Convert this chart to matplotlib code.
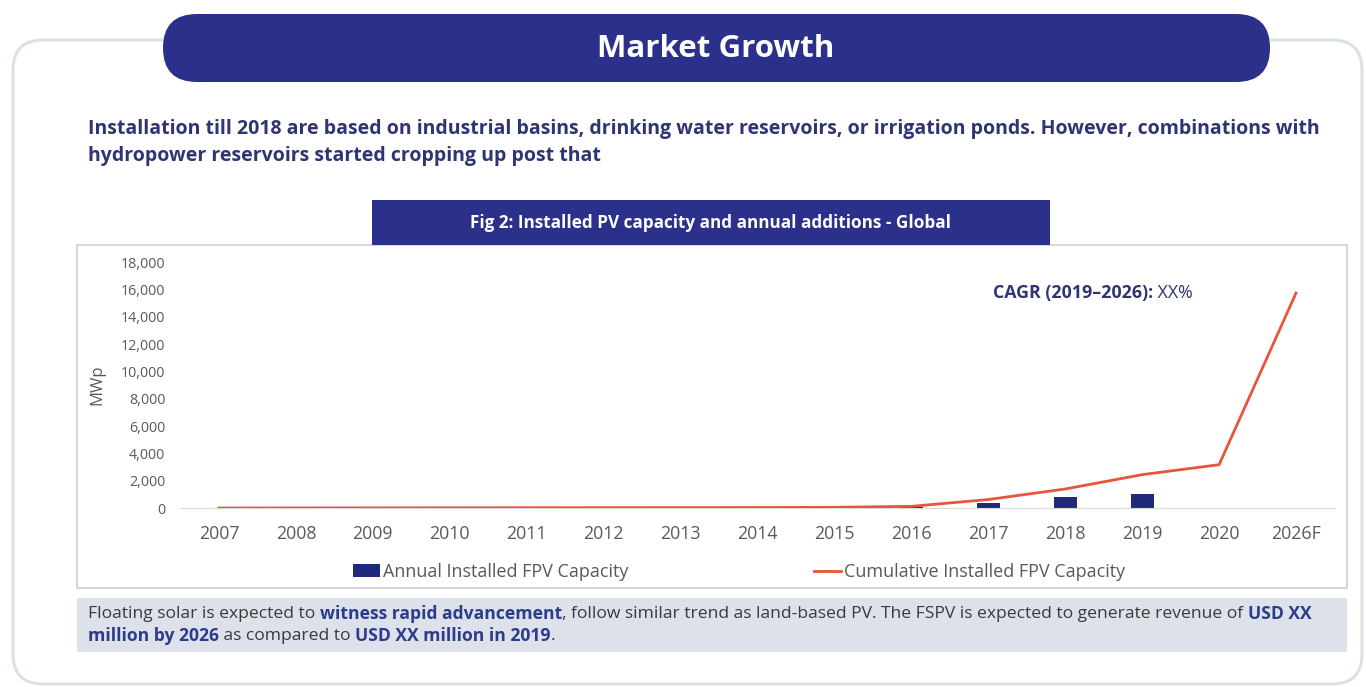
import matplotlib
matplotlib.use("Agg")
import matplotlib.pyplot as plt
from matplotlib.patches import FancyBboxPatch, Rectangle, Patch
from matplotlib.lines import Line2D
import numpy as np

# ---- data ----
categories = ["2007", "2008", "2009", "2010", "2011", "2012", "2013", "2014",
              "2015", "2016", "2017", "2018", "2019", "2020", "2026F"]
annual_installed = [0, 0, 0, 0, 0, 0, 0, 0, 10, 60, 400, 800, 1050, 0, 0]
cumulative_installed = [0, 5, 10, 15, 20, 25, 30, 35, 50, 120, 620, 1390, 2440, 3170, 15730]
yticks = [0, 2000, 4000, 6000, 8000, 10000, 12000, 14000, 16000, 18000]

NAVY = "#2B318A"
TXT_NAVY = "#2F3472"
BAR_C = "#1F2A7A"
LINE_C = "#E8553A"
GREY = "#595959"
FONT = "Open Sans"

W, H = 1366, 687
fig = plt.figure(figsize=(W / 100, H / 100), dpi=100)
fig.patch.set_facecolor("white")

bg = fig.add_axes([0, 0, 1, 1], zorder=0)
bg.set_xlim(0, W)
bg.set_ylim(H, 0)
bg.axis("off")

# outer rounded panel
bg.add_patch(FancyBboxPatch((13, 40), 1349, 644, boxstyle="round,pad=0,rounding_size=30",
                            facecolor="white", edgecolor="#D9E2E4", linewidth=2.2))
# title pill
bg.add_patch(FancyBboxPatch((163, 14), 1107, 68, boxstyle="round,pad=0,rounding_size=34",
                            facecolor=NAVY, edgecolor="none"))
bg.text(716, 49, "Market Growth", color="white", fontsize=22.5, fontweight="bold",
        family=FONT, ha="center", va="center")

# subtitle
bg.text(88, 129, "Installation till 2018 are based on industrial basins, drinking water reservoirs, or irrigation ponds. However, combinations with",
        color=TXT_NAVY, fontsize=14, fontweight="bold", family=FONT, ha="left", va="center")
bg.text(88, 156, "hydropower reservoirs started cropping up post that",
        color=TXT_NAVY, fontsize=14, fontweight="bold", family=FONT, ha="left", va="center")

# chart box
bg.add_patch(Rectangle((77, 245), 1270, 343, facecolor="white", edgecolor="#D0D0D0", linewidth=1.2))
# chart title banner
bg.add_patch(Rectangle((372, 200), 678, 45, facecolor=NAVY, edgecolor="none"))
bg.text(711, 223, "Fig 2: Installed PV capacity and annual additions - Global", color="white",
        fontsize=12.3, fontweight="bold", family=FONT, ha="center", va="center")

# bottom note box
bg.add_patch(Rectangle((77, 598), 1270, 54, facecolor="#DDE1EA", edgecolor="none"))

renderer = fig.canvas.get_renderer()


def rich(x, y, parts, fs):
    for txt, color, weight in parts:
        t = bg.text(x, y, txt, color=color, fontsize=fs, fontweight=weight,
                    family=FONT, ha="left", va="center")
        bb = t.get_window_extent(renderer)
        x += bb.width


BLUE_T = "#2E3A8C"
DARK_T = "#3A3A3A"
rich(88, 614, [("Floating solar is expected to ", DARK_T, "normal"),
               ("witness rapid advancement", BLUE_T, "bold"),
               (", follow similar trend as land-based PV. The FSPV is expected to generate revenue of ", DARK_T, "normal"),
               ("USD XX", BLUE_T, "bold")], 12.6)
rich(88, 636, [("million by 2026", BLUE_T, "bold"),
               (" as compared to ", DARK_T, "normal"),
               ("USD XX million in 2019", BLUE_T, "bold"),
               (".", DARK_T, "normal")], 12.6)

# CAGR annotation
rich(993, 293, [("CAGR (2019\u20132026):", TXT_NAVY, "bold"), (" XX%", TXT_NAVY, "normal")], 12.8)

# ---- chart ----
left = 180.5 / W
right = 1334.5 / W
bottom = (H - 508) / H
top = (H - 262) / H
ax = fig.add_axes([left, bottom, right - left, top - bottom], zorder=2)
ax.set_facecolor("none")
x = np.arange(len(categories))
ax.bar(x, annual_installed, width=0.3, color=BAR_C, zorder=2)
ax.plot(x, cumulative_installed, color=LINE_C, linewidth=2, zorder=3)
ax.set_xlim(-0.5, len(categories) - 0.5)
ax.set_ylim(0, 18000)
ax.set_yticks(yticks)
ax.set_yticklabels([f"{v:,}" for v in yticks], fontsize=10.3, color=GREY, family=FONT)
ax.set_xticks(x)
ax.set_xticklabels(categories, fontsize=12.8, color=GREY, family=FONT)
ax.tick_params(axis="y", length=0, pad=11)
ax.tick_params(axis="x", length=0, pad=12)
for s in ["top", "right", "left"]:
    ax.spines[s].set_visible(False)
ax.spines["bottom"].set_color("#D9D9D9")
ax.set_ylabel("MWp", fontsize=12, color=GREY, family=FONT)
ax.yaxis.set_label_coords((105 - 180.5) / 1154, 0.5)

handles = [Patch(facecolor=BAR_C, edgecolor="none"),
           Line2D([0], [0], color=LINE_C, linewidth=2)]
labels = ["Annual Installed FPV Capacity", "Cumulative Installed FPV Capacity"]
leg = ax.legend(handles, labels, loc="center", bbox_to_anchor=(0.484, -0.26), ncol=2,
                frameon=False, fontsize=13, handlelength=1.5, handletextpad=0.15,
                columnspacing=10.3)
for t in leg.get_texts():
    t.set_color(GREY)
    t.set_family(FONT)

fig.savefig("out.png", dpi=100, facecolor="white")
